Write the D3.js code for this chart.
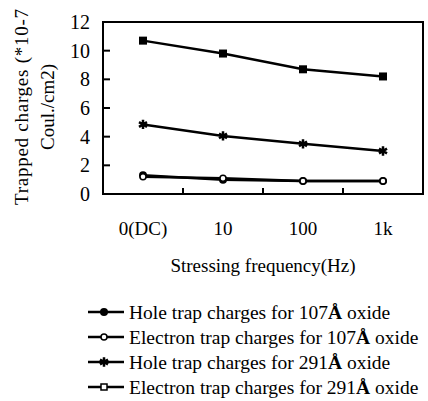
<!DOCTYPE html>
<html lang="en">
<head>
<meta charset="UTF-8">
<title>Trapped charges vs stressing frequency</title>
<script src="https://d3js.org/d3.v7.min.js"></script>
<style>
    body { margin: 0; background: #fff; }
    text { font-family: "Liberation Serif", "Times New Roman", serif; fill: #000; }
</style>
</head>
<body>
<svg id="chart"></svg>
<script>
    // data
    const freqs = ["0(DC)", "10", "100", "1k"];
    const holeTrap107 = [1.3, 1.0, 0.9, 0.9];
    const electronTrap107 = [1.2, 1.1, 0.9, 0.9];
    const holeTrap291 = [4.85, 4.05, 3.5, 3.0];
    const electronTrap291 = [10.7, 9.8, 8.7, 8.2];
    const yTicks = [0, 2, 4, 6, 8, 10, 12];
    const seriesNames = ["Hole trap charges for 107", "Electron trap charges for 107",
                         "Hole trap charges for 291", "Electron trap charges for 291"];

    const series = [
        { name: seriesNames[0], values: holeTrap107, mark: "dot" },
        { name: seriesNames[1], values: electronTrap107, mark: "ring" },
        { name: seriesNames[2], values: holeTrap291, mark: "star" },
        { name: seriesNames[3], values: electronTrap291, mark: "square" }
    ];

    const W = 428, H = 401;
    const margin = { top: 22, right: 5, bottom: 207, left: 103 };
    const width = W - margin.left - margin.right;
    const height = H - margin.top - margin.bottom;

    const svg = d3.select("#chart").attr("width", W).attr("height", H);
    const g = svg.append("g").attr("transform", `translate(${margin.left},${margin.top})`);

    const x = d3.scaleBand().domain(freqs).range([0, width]);
    const y = d3.scaleLinear().domain([0, 12]).range([height, 0]);

    // frame
    g.append("rect")
        .attr("width", width).attr("height", height)
        .attr("fill", "none").attr("stroke", "#000").attr("stroke-width", 2);

    // y ticks
    g.selectAll(".ytick").data(yTicks).enter().append("line")
        .attr("x1", 0).attr("x2", 7)
        .attr("y1", d => y(d)).attr("y2", d => y(d))
        .attr("stroke", "#000").attr("stroke-width", 2);
    g.selectAll(".ylab").data(yTicks).enter().append("text")
        .attr("x", -13).attr("y", d => y(d)).attr("dy", "0.35em")
        .attr("text-anchor", "end").style("font-size", "20px")
        .text(d => d);

    // x ticks between categories
    g.selectAll(".xtick").data(freqs.slice(1)).enter().append("line")
        .attr("x1", d => x(d)).attr("x2", d => x(d))
        .attr("y1", height).attr("y2", height - 6)
        .attr("stroke", "#000").attr("stroke-width", 2);
    g.selectAll(".xlab").data(freqs).enter().append("text")
        .attr("x", d => x(d) + x.bandwidth() / 2).attr("y", height + 34)
        .attr("dy", "0.35em").attr("text-anchor", "middle").style("font-size", "19px")
        .text(d => d);

    g.append("text")
        .attr("x", width / 2).attr("y", height + 71).attr("dy", "0.35em")
        .attr("text-anchor", "middle").style("font-size", "19px")
        .text("Stressing frequency(Hz)");

    // y axis title, two lines
    svg.append("text")
        .attr("transform", "translate(21,107) rotate(-90)")
        .attr("dy", "0.35em").attr("text-anchor", "middle").style("font-size", "19px")
        .attr("textLength", 196).attr("lengthAdjust", "spacing")
        .text("Trapped charges (*10-7");
    svg.append("text")
        .attr("transform", "translate(47,107) rotate(-90)")
        .attr("dy", "0.35em").attr("text-anchor", "middle").style("font-size", "19px")
        .text("Coul./cm2)");

    function drawMark(sel, mark) {
        if (mark === "dot") {
            sel.append("circle").attr("r", 4).attr("fill", "#000");
        } else if (mark === "ring") {
            sel.append("circle").attr("r", 3).attr("fill", "#fff").attr("stroke", "#000").attr("stroke-width", 1.5);
        } else if (mark === "star") {
            sel.append("path").attr("d", d3.symbol(d3.symbolAsterisk, 60)()).attr("stroke", "#000").attr("stroke-width", 2.5);
        } else {
            sel.append("rect").attr("x", -4).attr("y", -4).attr("width", 8).attr("height", 8).attr("fill", "#000");
        }
    }

    const line = d3.line()
        .x((d, i) => x(freqs[i]) + x.bandwidth() / 2)
        .y(d => y(d));

    series.forEach(s => {
        g.append("path").datum(s.values)
            .attr("d", line).attr("fill", "none")
            .attr("stroke", "#000").attr("stroke-width", 2.5);
        g.selectAll(null).data(s.values).enter().append("g")
            .attr("transform", (d, i) => `translate(${x(freqs[i]) + x.bandwidth() / 2},${y(d)})`)
            .each(function() { drawMark(d3.select(this), s.mark); });
    });

    // legend
    const legendMarks = ["dot", "ring", "star", "ring"];
    const legend = svg.append("g").attr("transform", "translate(88,312)");
    series.forEach((s, i) => {
        const row = legend.append("g").attr("transform", `translate(0,${i * 25})`);
        row.append("line").attr("x1", 0).attr("x2", 36).attr("y1", 0).attr("y2", 0)
            .attr("stroke", "#000").attr("stroke-width", 2.5);
        const m = row.append("g").attr("transform", "translate(16,0)");
        if (i === 3) {
            m.append("rect").attr("x", -3).attr("y", -3).attr("width", 6).attr("height", 6)
                .attr("fill", "#fff").attr("stroke", "#000").attr("stroke-width", 1.5);
        } else {
            drawMark(m, legendMarks[i]);
        }
        const t = row.append("text").attr("x", 41).attr("dy", "0.35em").style("font-size", "19.5px");
        t.append("tspan").text(s.name);
        t.append("tspan").style("font-weight", "bold").text("Å");
        t.append("tspan").text(" oxide");
    });
</script>
</body>
</html>
